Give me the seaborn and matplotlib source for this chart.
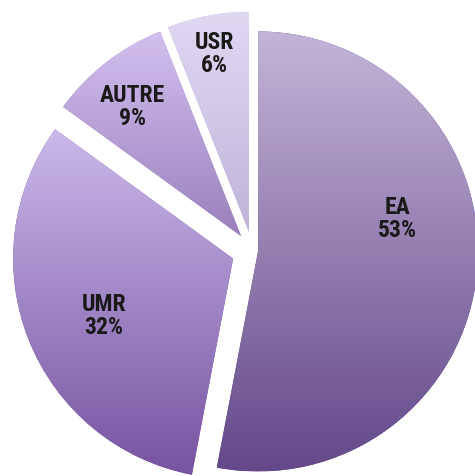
import numpy as np
import matplotlib
matplotlib.use('Agg')
import matplotlib.pyplot as plt
import seaborn as sns
from matplotlib import font_manager as fm
from matplotlib.colors import LinearSegmentedColormap

categories = ['EA', 'UMR', 'AUTRE', 'USR']
shares = [53, 32, 9, 6]
explode = [0.025, 0.095, 0.085, 0.088]
top_colors = ['#C3B5D8', '#CAB9EA', '#D2C0F0', '#E1D8F4']
bottom_colors = ['#644889', '#7753A0', '#9A80BC', '#C0B4D8']
label_frac = [0.65, 0.64, 0.77, 0.83]
label_turn = [19, 2, 2, 0]

sns.set_theme(style='white')

# pick a narrow bold sans if one is available
fonts = fm.fontManager.ttflist
names = {f.name for f in fonts}
font_kw = {}
if 'Liberation Sans Narrow' in names:
    font_kw = dict(family=['Liberation Sans Narrow', 'DejaVu Sans'])
elif 'Roboto Condensed' in names:
    font_kw = dict(family=['Roboto Condensed', 'DejaVu Sans'])
elif any(f.name == 'DejaVu Sans' and 'condensed' in str(f.stretch) for f in fonts):
    font_kw = dict(family=['DejaVu Sans'], fontstretch='condensed')
elif any(f.name == 'Roboto' and 'condensed' in str(f.stretch) for f in fonts):
    font_kw = dict(family=['Roboto'], fontstretch='condensed')
else:
    font_kw = dict(family=['Liberation Sans', 'DejaVu Sans'])

fig = plt.figure(figsize=(4.75, 4.77), dpi=100)
ax = fig.add_axes([0, 0, 1, 1])
wedges, _ = ax.pie(shares, explode=explode, startangle=90, counterclock=False,
                   radius=1, colors=bottom_colors, wedgeprops=dict(linewidth=0))

for i, w in enumerate(wedges):
    ext = w.get_path().get_extents()
    grad = np.linspace(0, 1, 256)[:, None]
    cmap = LinearSegmentedColormap.from_list('g%d' % i, [top_colors[i], bottom_colors[i]])
    im = ax.imshow(grad, extent=[ext.x0, ext.x1, ext.y0, ext.y1], origin='upper',
                   cmap=cmap, aspect='auto', interpolation='bicubic',
                   zorder=w.get_zorder() + 0.1)
    im.set_clip_path(w)
    th = np.deg2rad((w.theta1 + w.theta2) / 2 + label_turn[i])
    x = w.center[0] + label_frac[i] * w.r * np.cos(th)
    y = w.center[1] + label_frac[i] * w.r * np.sin(th)
    ax.text(x, y, f"{categories[i]}\n{shares[i]}%", ha='center', va='center',
            fontsize=17, fontweight='bold', color='#1a1a1a', linespacing=1.0,
            zorder=10, **font_kw)

ax.set_xlim(-1.148, 1.011)
ax.set_ylim(-1.023, 1.145)
ax.set_aspect('auto')
ax.axis('off')
fig.savefig('out.png', dpi=100, facecolor='white')
